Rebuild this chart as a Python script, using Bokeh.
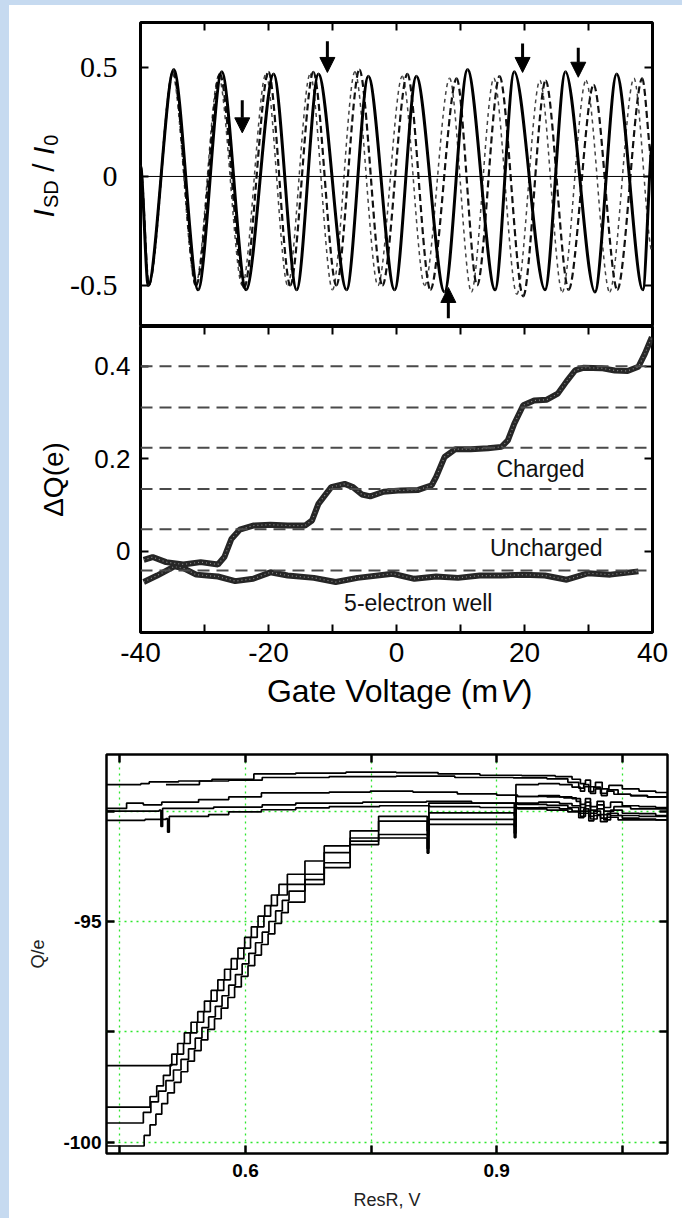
import math
from bokeh.plotting import figure
from bokeh.models import (ColumnDataSource, Range1d, FixedTicker, LinearAxis, Span,
                          Arrow, NormalHead, Spacer)
from bokeh.layouts import column, row
from bokeh.embed import file_html
from bokeh.resources import INLINE
from bokeh.core.properties import value

# ---------------- top panel: I_SD / I_0 oscillations (extrema)
solid_x = [-40.0, -38.8, -34.8, -31.0, -27.3, -23.5, -19.2, -15.6, -12.2, -7.8, -4.4, -0.3,
           3.1, 7.5, 11.1, 15.4, 18.4, 23.2, 26.4, 31.0, 34.4, 38.5, 40.0]
solid_y = [0.05, -0.50, 0.49, -0.52, 0.48, -0.52, 0.47, -0.52, 0.47, -0.52, 0.46, -0.52,
           0.46, -0.53, 0.49, -0.52, 0.48, -0.52, 0.48, -0.53, 0.47, -0.52, 0.15]
dashA_x = [-40.0, -38.7, -34.9, -31.3, -27.6, -23.8, -20.0, -16.6, -13.0, -9.4, -5.8, -2.2,
           1.7, 5.3, 9.4, 12.6, 16.1, 19.8, 23.3, 26.9, 30.8, 34.5, 38.4, 40.0]
dashA_y = [0.05, -0.50, 0.48, -0.50, 0.47, -0.51, 0.48, -0.50, 0.48, -0.50, 0.49, -0.50,
           0.47, -0.52, 0.45, -0.50, 0.46, -0.55, 0.44, -0.52, 0.42, -0.52, 0.45, 0.05]
dashB_x = [-40.0, -38.7, -35.0, -31.4, -27.8, -24.1, -20.4, -17.0, -13.5, -10.0, -6.5, -2.9,
           0.9, 4.4, 8.3, 11.7, 15.2, 18.8, 22.4, 25.9, 29.6, 33.3, 37.1, 40.0]
dashB_y = [0.05, -0.50, 0.47, -0.50, 0.46, -0.50, 0.47, -0.50, 0.47, -0.52, 0.48, -0.50,
           0.46, -0.50, 0.45, -0.53, 0.45, -0.54, 0.44, -0.53, 0.44, -0.53, 0.45, -0.35]
arrow_x = [-24.1, -10.8, 19.7, 28.4, 8.1]
arrow_tail = [0.35, 0.62, 0.61, 0.59, -0.65]
arrow_tip = [0.20, 0.477, 0.477, 0.455, -0.509]
top_yticks = [-0.5, 0, 0.5]
top_ylabels = ["-0.5", "0", "0.5"]

# ---------------- middle panel: Delta Q(e)
charged_x = [-39.5, -38.1, -36.0, -33.3, -30.6, -27.9, -26.9, -25.8, -24.5, -22.4, -19.7, -17.0,
             -14.3, -13.2, -12.2, -10.2, -8.1, -6.8, -5.4, -4.1, -2.0, 0.7, 3.4, 5.5, 6.2, 7.5,
             9.2, 11.6, 14.3, 16.4, 17.4, 18.4, 19.8, 21.5, 23.5, 25.2, 26.6, 27.9, 29.3, 32.0,
             34.1, 36.1, 37.8, 38.8, 39.9]
charged_y = [-0.018, -0.012, -0.023, -0.028, -0.023, -0.028, -0.012, 0.027, 0.047, 0.056, 0.058,
             0.056, 0.056, 0.067, 0.103, 0.139, 0.146, 0.139, 0.123, 0.119, 0.129, 0.132, 0.133,
             0.143, 0.161, 0.204, 0.221, 0.221, 0.223, 0.226, 0.240, 0.276, 0.316, 0.326, 0.328,
             0.341, 0.368, 0.391, 0.397, 0.396, 0.391, 0.390, 0.399, 0.427, 0.463]
well_x = [-39.5, -37.4, -34.7, -33.3, -31.3, -27.9, -25.2, -22.4, -19.7, -17.0, -12.9, -9.5,
          -6.1, -0.6, 2.8, 6.2, 9.6, 13.0, 16.4, 19.8, 23.2, 26.6, 30.0, 33.4, 37.8]
well_y = [-0.066, -0.052, -0.032, -0.036, -0.050, -0.054, -0.064, -0.059, -0.045, -0.052, -0.057,
          -0.066, -0.057, -0.048, -0.059, -0.054, -0.057, -0.052, -0.052, -0.050, -0.052, -0.061,
          -0.047, -0.050, -0.043]
dq_levels = [0.400, 0.311, 0.224, 0.135, 0.048, -0.041]
mid_text = ["Charged", "Uncharged", "5-electron well"]
mid_text_x = [22.5, 23.4, 3.4]
mid_text_y = [0.179, 0.0065, -0.112]
mid_yticks = [0, 0.2, 0.4]
mid_ylabels = ["0", "0.2", "0.4"]
gate_major = [-40, -20, 0, 20, 40]
gate_minor = [-30, -10, 10, 30]
gate_labels = ["-40", "-20", "0", "20", "40"]

# ---------------- bottom chart: Q/e vs ResR (step traces)
S1_x = [0.434, 0.512, 0.519, 0.527, 0.535, 0.543, 0.551, 0.559, 0.567, 0.575, 0.583, 0.591, 0.599,
        0.607, 0.615, 0.623, 0.631, 0.640, 0.650, 0.671, 0.694, 0.725, 0.759, 0.817, 0.819, 0.921,
        0.923, 0.950, 0.975, 0.990, 1.000, 1.005, 1.012, 1.018, 1.025, 1.032, 1.040, 1.060, 1.080, 1.104]
S1_y = [-98.26, -98.00, -97.76, -97.52, -97.28, -97.04, -96.80, -96.56, -96.32, -96.08, -95.84, -95.60,
        -95.36, -95.12, -94.88, -94.64, -94.40, -94.16, -93.93, -93.63, -93.29, -92.95, -92.62, -92.95,
        -92.32, -92.60, -91.90, -91.88, -91.90, -91.96, -92.05, -91.95, -92.10, -92.00, -92.15, -92.05,
        -92.12, -92.15, -92.18, -92.20]
S2_x = [0.434, 0.486, 0.494, 0.502, 0.510, 0.518, 0.526, 0.534, 0.542, 0.550, 0.558, 0.566, 0.574,
        0.582, 0.590, 0.598, 0.606, 0.614, 0.622, 0.630, 0.638, 0.650, 0.671, 0.694, 0.725, 0.759,
        0.817, 0.819, 0.921, 0.923, 0.950, 0.975, 0.990, 1.000, 1.006, 1.012, 1.020, 1.028, 1.036,
        1.050, 1.070, 1.090, 1.104]
S2_y = [-99.20, -98.96, -98.72, -98.48, -98.24, -98.00, -97.76, -97.52, -97.28, -97.04, -96.80, -96.56,
        -96.32, -96.08, -95.84, -95.60, -95.36, -95.12, -94.88, -94.64, -94.40, -94.16, -93.93, -93.44,
        -93.11, -92.73, -93.05, -92.54, -92.85, -92.17, -92.15, -92.18, -92.22, -92.35, -92.22, -92.40,
        -92.28, -92.42, -92.30, -92.38, -92.40, -92.42, -92.42]
S3_x = [0.434, 0.478, 0.487, 0.496, 0.505, 0.514, 0.523, 0.532, 0.540, 0.548, 0.556, 0.564, 0.572,
        0.580, 0.588, 0.596, 0.604, 0.612, 0.620, 0.628, 0.636, 0.644, 0.652, 0.671, 0.694, 0.725,
        0.759, 0.817, 0.819, 0.921, 0.923, 0.950, 0.975, 0.990, 1.000, 1.006, 1.012, 1.020, 1.028,
        1.036, 1.050, 1.070, 1.090, 1.104]
S3_y = [-99.56, -99.32, -99.08, -98.84, -98.60, -98.36, -98.12, -97.88, -97.64, -97.40, -97.16, -96.92,
        -96.68, -96.44, -96.20, -95.96, -95.72, -95.48, -95.24, -95.00, -94.76, -94.52, -94.31, -94.05,
        -93.67, -93.18, -93.03, -93.35, -92.69, -93.00, -92.32, -92.30, -92.33, -92.38, -92.50, -92.38,
        -92.55, -92.45, -92.58, -92.48, -92.55, -92.56, -92.60, -92.60]
S4_x = [0.434, 0.479, 0.486, 0.493, 0.500, 0.507, 0.515, 0.523, 0.531, 0.539, 0.547, 0.555, 0.563,
        0.571, 0.579, 0.587, 0.595, 0.603, 0.611, 0.619, 0.627, 0.635, 0.643, 0.651, 0.671, 0.694,
        0.725, 0.759, 0.817, 0.819, 0.921, 0.923, 0.950, 0.975, 0.990, 1.000, 1.006, 1.012, 1.020,
        1.028, 1.036, 1.050, 1.070, 1.090, 1.104]
S4_y = [-100.08, -99.84, -99.60, -99.36, -99.12, -98.88, -98.64, -98.40, -98.16, -97.92, -97.68, -97.44,
        -97.20, -96.96, -96.72, -96.48, -96.24, -96.00, -95.76, -95.52, -95.28, -95.04, -94.80, -94.56,
        -94.16, -93.78, -93.26, -93.11, -93.45, -92.80, -93.10, -92.43, -92.42, -92.45, -92.50, -92.62,
        -92.50, -92.68, -92.58, -92.70, -92.60, -92.66, -92.68, -92.70, -92.70]
T1_x = [0.434, 0.475, 0.485, 0.520, 0.560, 0.610, 0.660, 0.720, 0.780, 0.830, 0.880, 0.930, 0.970,
        0.990, 1.000, 1.006, 1.012, 1.018, 1.026, 1.034, 1.050, 1.070, 1.090, 1.104]
T1_y = [-91.90, -91.88, -91.84, -91.82, -91.78, -91.66, -91.64, -91.62, -91.63, -91.66, -91.69, -91.70,
        -91.72, -91.78, -91.88, -91.80, -91.95, -91.85, -92.00, -91.92, -92.00, -92.05, -92.08, -92.08]
T2_x = [0.505, 0.545, 0.580, 0.620, 0.700, 0.780, 0.850, 0.920, 0.960, 0.985, 0.998, 1.004, 1.010,
        1.016, 1.024, 1.032, 1.045, 1.060, 1.080, 1.104]
T2_y = [-91.90, -91.82, -91.80, -91.74, -91.72, -91.71, -91.74, -91.75, -91.77, -91.85, -91.98, -91.90,
        -92.06, -91.96, -92.10, -92.02, -92.12, -92.15, -92.18, -92.20]
T3_x = [0.434, 0.458, 0.478, 0.500, 0.544, 0.580, 0.619, 0.700, 0.749, 0.800, 0.853, 0.900, 0.925,
        0.960, 0.980, 0.995, 1.000, 1.006, 1.012, 1.020, 1.028, 1.040, 1.060, 1.080, 1.104]
T3_y = [-92.44, -92.32, -92.36, -92.30, -92.24, -92.18, -92.09, -92.07, -92.05, -92.07, -92.11, -92.14,
        -92.17, -92.18, -92.20, -92.28, -92.42, -92.30, -92.48, -92.36, -92.50, -92.40, -92.45, -92.45,
        -92.45]
T4_x = [0.434, 0.497, 0.499, 0.501, 0.562, 0.620, 0.660, 0.740, 0.816, 0.870, 0.925, 0.960, 0.985,
        0.998, 1.004, 1.010, 1.016, 1.024, 1.032, 1.045, 1.070, 1.104]
T4_y = [-92.50, -92.48, -92.85, -92.44, -92.41, -92.36, -92.32, -92.30, -92.28, -92.32, -92.35, -92.37,
        -92.42, -92.55, -92.45, -92.62, -92.50, -92.66, -92.55, -92.60, -92.62, -92.62]
T5_x = [0.434, 0.480, 0.505, 0.507, 0.509, 0.556, 0.580, 0.619, 0.660, 0.700, 0.760, 0.820, 0.880,
        0.925, 0.960, 0.985, 0.998, 1.004, 1.010, 1.016, 1.024, 1.032, 1.045, 1.070, 1.104]
T5_y = [-92.71, -92.69, -92.67, -92.98, -92.62, -92.58, -92.52, -92.47, -92.43, -92.40, -92.38, -92.40,
        -92.42, -92.45, -92.48, -92.52, -92.65, -92.55, -92.72, -92.60, -92.74, -92.64, -92.70, -92.70,
        -92.70]
res_xmajor = [0.6, 0.9]
res_xminor = [0.45, 0.75, 1.05]
res_xlabels = ["0.6", "0.9"]
res_ymajor = [-95, -100]
res_yminor = [-92.5, -97.5]
res_ylabels = ["-95", "-100"]

SANS = "Liberation Sans"
SERIF = "Liberation Serif"
BG = "#c6daf0"


def tick_only(ax, ticks, tick_len=8, width=2):
    # ticks without labels: minor ticks only
    ax.ticker = FixedTicker(ticks=[], minor_ticks=ticks)
    ax.major_tick_line_color = None
    ax.minor_tick_in = tick_len
    ax.minor_tick_out = 0
    ax.minor_tick_line_width = width
    ax.minor_tick_line_color = "black"
    ax.axis_line_color = None
    ax.major_label_text_font_size = "0px"
    ax.major_label_standoff = 0


def labelled(ax, ticks, labels, font, size, standoff, minor=(), tick_len=8, width=2, style="normal"):
    ax.ticker = FixedTicker(ticks=ticks, minor_ticks=list(minor))
    ax.major_label_overrides = {t: l for t, l in zip(ticks, labels)}
    ax.major_tick_in = tick_len
    ax.major_tick_out = 0
    ax.minor_tick_in = tick_len
    ax.minor_tick_out = 0
    ax.major_tick_line_width = width
    ax.minor_tick_line_width = width
    ax.major_tick_line_color = "black"
    ax.minor_tick_line_color = "black"
    ax.axis_line_color = None
    ax.major_label_text_font = font
    ax.major_label_text_font_size = size
    ax.major_label_text_font_style = style
    ax.major_label_text_color = "black"
    ax.major_label_standoff = standoff


def text_fig(w, h, xr, yr, **borders):
    f = figure(width=w, height=h, x_range=Range1d(*xr), y_range=Range1d(*yr),
               x_axis_location=None, y_axis_location=None, output_backend="svg",
               toolbar_location=None, **borders)
    f.grid.visible = False
    f.outline_line_color = None
    return f


def smooth(p, xs, ys, k=0.3, **kw):
    x0, x1 = xs[:-1], xs[1:]
    y0, y1 = ys[:-1], ys[1:]
    cx0 = [a + k * (b - a) for a, b in zip(x0, x1)]
    cx1 = [b - k * (b - a) for a, b in zip(x0, x1)]
    p.bezier(x0=x0, y0=y0, x1=x1, y1=y1, cx0=cx0, cy0=y0, cx1=cx1, cy1=y1, **kw)


# ======================= y-label strip for the top panel
# frame = page x 9..62, page y 22..326 ; data coords = page coords (y measured up from 326)
YL = text_fig(53, 321, (9, 62), (0, 304), min_border_left=0, min_border_right=0,
              min_border_top=17, min_border_bottom=0)
pieces = [("I", 30, "italic", 43, 212.8), ("SD", 20, "normal", 50, 193.6),
          ("/", 30, "normal", 43, 167.2), ("I", 30, "italic", 43, 150.3),
          ("0", 20, "normal", 50, 139.6)]
for txt, fs, st, px, py in pieces:
    YL.text(x=[px], y=[326 - py], text=[txt], angle=math.pi / 2, text_font=value(SANS),
            text_font_size=f"{fs}px", text_font_style=st, text_align="center",
            text_baseline="middle", text_color="black")

# ======================= figure A (top panel)
A = figure(width=620, height=321, x_range=Range1d(-40, 40), y_range=Range1d(-0.688, 0.706),
           x_axis_location="above", output_backend="svg", toolbar_location=None,
           min_border_left=78, min_border_right=30, min_border_top=17, min_border_bottom=0)
A.grid.visible = False
A.outline_line_color = "black"
A.outline_line_width = 3
tick_only(A.xaxis[0], gate_minor + [-20, 0, 20])
labelled(A.yaxis[0], top_yticks, top_ylabels, SERIF, "30px", 23)
ra = LinearAxis()
A.add_layout(ra, "right")
tick_only(ra, top_yticks)
A.add_layout(Span(location=0, dimension="width", line_color="black", line_width=1))
smooth(A, dashB_x, dashB_y, line_color="#444444", line_width=1.5, line_dash="4 4")
smooth(A, dashA_x, dashA_y, line_color="#111111", line_width=2.2, line_dash="7 4")
smooth(A, solid_x, solid_y, line_color="black", line_width=3.0)
arr_src = ColumnDataSource(dict(x=arrow_x, y0=arrow_tail, y1=arrow_tip))
A.add_layout(Arrow(end=NormalHead(size=15, fill_color="black", line_color="black"),
                   x_start="x", y_start="y0", x_end="x", y_end="y1", source=arr_src,
                   line_width=3, line_color="black"))

# ======================= figure B (middle panel)
B = figure(width=673, height=348, x_range=Range1d(-40, 40), y_range=Range1d(-0.175, 0.486),
           x_axis_location="below", output_backend="svg", toolbar_location=None,
           min_border_left=131, min_border_right=30, min_border_top=0, min_border_bottom=42)
B.grid.visible = False
B.outline_line_color = "black"
B.outline_line_width = 3
labelled(B.xaxis[0], gate_major, gate_labels, SANS, "28px", 10, minor=gate_minor)
labelled(B.yaxis[0], mid_yticks, mid_ylabels, SANS, "26px", 10)
B.yaxis[0].axis_label = "ΔQ(e)"
B.yaxis[0].axis_label_text_font = SANS
B.yaxis[0].axis_label_text_font_size = "28px"
B.yaxis[0].axis_label_text_font_style = "normal"
B.yaxis[0].axis_label_text_color = "black"
B.yaxis[0].axis_label_standoff = 22
ta = LinearAxis()
B.add_layout(ta, "above")
tick_only(ta, gate_minor + [-20, 0, 20])
rb = LinearAxis()
B.add_layout(rb, "right")
tick_only(rb, mid_yticks)
for lv in dq_levels:
    B.add_layout(Span(location=lv, dimension="width", line_color="#4a4a4a",
                      line_width=2, line_dash="12 7"))
for xs, ys in ((well_x, well_y), (charged_x, charged_y)):
    B.line(xs, ys, line_color="#262626", line_width=6)
    B.line(xs, ys, line_color="#8c8c8c", line_width=1.2, line_dash="1 3")
B.text(x=mid_text_x, y=mid_text_y, text=mid_text, text_font=value(SANS), text_font_size="23px",
       text_align="center", text_baseline="middle", text_color="#111111")

# ======================= x-label strip under the middle panel (page y 674..735)
# frame = page x 140..652 (aligned with panel frames); data x = page x
GL = text_fig(673, 61, (140, 652), (0, 61), min_border_left=131, min_border_right=30,
              min_border_top=0, min_border_bottom=0)
gv = [("Gate Voltage (m", "normal", 382.0), ("V", "italic", 510.5), (")", "normal", 526.5)]
for txt, st, px in gv:
    GL.text(x=[px], y=[735 - 690], text=[txt], text_font=value(SANS),
            text_font_size="32px", text_font_style=st, text_align="center",
            text_baseline="middle", text_color="black")

# ======================= figure C (bottom chart)
C = figure(width=673, height=483, x_range=Range1d(0.434, 1.104), y_range=Range1d(-100.25, -91.22),
           output_backend="svg", toolbar_location=None,
           min_border_left=97, min_border_right=15, min_border_top=19, min_border_bottom=65)
C.outline_line_color = "black"
C.outline_line_width = 2.5
C.xgrid.ticker = FixedTicker(ticks=res_xmajor + res_xminor)
C.ygrid.ticker = FixedTicker(ticks=res_ymajor + res_yminor)
C.grid.grid_line_color = "#2ee62e"
C.grid.grid_line_width = 1.3
C.grid.grid_line_dash = "2 4"
labelled(C.xaxis[0], res_xmajor, res_xlabels, SANS, "19px", 10, minor=res_xminor,
         tick_len=8, width=2.5, style="bold")
labelled(C.yaxis[0], res_ymajor, res_ylabels, SANS, "19px", 5, minor=res_yminor,
         tick_len=8, width=2.5, style="bold")
C.xaxis[0].axis_label = "ResR, V"
C.yaxis[0].axis_label = "Q/e"
for axl in (C.xaxis[0], C.yaxis[0]):
    axl.axis_label_text_font = SANS
    axl.axis_label_text_font_size = "18px"
    axl.axis_label_text_font_style = "normal"
    axl.axis_label_text_color = "#222222"
C.xaxis[0].axis_label_standoff = 10
C.yaxis[0].axis_label_standoff = 12
tc = LinearAxis()
C.add_layout(tc, "above")
tick_only(tc, res_xmajor + res_xminor, width=2.5)
rc = LinearAxis()
C.add_layout(rc, "right")
tick_only(rc, res_ymajor + res_yminor, width=2.5)
for xs, ys in ((T1_x, T1_y), (T2_x, T2_y), (T3_x, T3_y), (T4_x, T4_y), (T5_x, T5_y),
               (S1_x, S1_y), (S2_x, S2_y), (S3_x, S3_y), (S4_x, S4_y)):
    C.step(xs, ys, mode="after", line_color="black", line_width=1.7)

# two independent roots so that the bottom chart's frame is not aligned with the panels above
root1 = row(Spacer(width=9, height=735, styles={"background-color": BG}),
            column(Spacer(width=673, height=5, styles={"background-color": BG}),
                   row(YL, A), B, GL))
root2 = row(Spacer(width=9, height=483, styles={"background-color": BG}), C)
p = [root1, root2]

open("out.html", "w").write(file_html(p, INLINE))
